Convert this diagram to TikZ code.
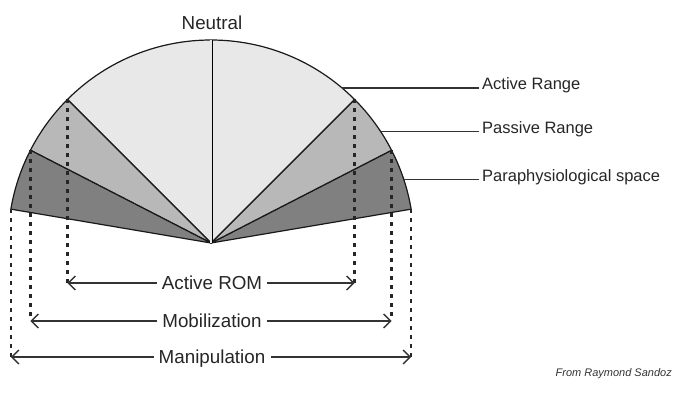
\documentclass[tikz,border=0pt]{standalone}
\usepackage{fontspec}
\setmainfont{Liberation Sans}
\usepackage{tikz}
\usetikzlibrary{positioning,arrows.meta,calc}
\definecolor{activegray}{gray}{0.91}
\definecolor{passivegray}{gray}{0.72}
\definecolor{paragray}{gray}{0.50}
\tikzset{
  wedge/.style={draw=black!90, line width=1.2pt, line join=round},
  leader/.style={line width=1.1pt, draw=black!80, shorten >=3pt},
  guide/.style={line width=2.2pt, dash pattern=on 4pt off 5pt, draw=black!85},
  span/.style={line width=1.4pt, draw=black!80, -{Straight Barb[length=7pt,width=14pt]}},
  spanlabel/.style={font=\fontsize{18.8}{21}\selectfont, inner sep=5pt, anchor=base, text=black!85},
  rangelabel/.style={font=\fontsize{16.5}{19}\selectfont, inner sep=0pt, anchor=base west, text=black!85},
}

\begin{document}
\begin{tikzpicture}[x=1pt,y=1pt]
  \useasboundingbox (0,0) rectangle (690,394);
  \coordinate (centre) at (211,151);

  % the fan
  \foreach \from/\to/\shade in {9.6/27.2/paragray, 27.2/45/passivegray, 45/135/activegray,
                                135/152.8/passivegray, 152.8/170.4/paragray}
    \filldraw[wedge, fill=\shade] (centre) -- ($(centre)+(\from:203)$)
      arc[start angle=\from, end angle=\to, radius=203] -- cycle;
  \coordinate (top) at ($(centre)+(90:203)$);
  \draw[double=activegray, double distance=1.2pt, line width=0.9pt] (centre) -- (top);
  \node[spanlabel] (neutral) at (212,364) {Neutral};

  % limits on the arc
  \coordinate (actL) at ($(centre)+(135:203)$);
  \coordinate (actR) at ($(centre)+(45:203)$);
  \coordinate (pasL) at ($(centre)+(152.8:203)$);
  \coordinate (pasR) at ($(centre)+(27.2:203)$);
  \coordinate (parL) at ($(centre)+(170.4:203)$);
  \coordinate (parR) at ($(centre)+(9.6:203)$);

  % legend on the right
  \coordinate (lgA) at ($(centre)+(49.8:203)$);
  \coordinate (lgB) at ($(centre)+(33.2:203)$);
  \coordinate (lgC) at ($(centre)+(18.2:203)$);
  \node[rangelabel] (activerange) at ($(482,0 |- lgA)+(0,-2)$) {Active Range};
  \node[rangelabel] (passiverange) at ($(482,0 |- lgB)+(0,-2)$) {Passive Range};
  \node[rangelabel] (paraspace) at ($(482,0 |- lgC)+(0,-2)$) {Paraphysiological space};
  \draw[leader] (lgA) -- (activerange.west |- lgA);
  \draw[leader] (lgB) -- (passiverange.west |- lgB);
  \draw[leader] (lgC) -- (paraspace.west |- lgC);

  % spans below
  \coordinate (romL) at (actL |- 0,111);
  \coordinate (romR) at (actR |- 0,111);
  \coordinate (mobL) at (pasL |- 0,73);
  \coordinate (mobR) at (pasR |- 0,73);
  \coordinate (manL) at (parL |- 0,37);
  \coordinate (manR) at (parR |- 0,37);
  \foreach \p/\q in {actL/romL, actR/romR, pasL/mobL, pasR/mobR, parL/manL, parR/manR}
    \draw[guide] (\p) -- (\q);

  \node[spanlabel] (rom) at (212,104.4) {Active ROM};
  \node[spanlabel] (mob) at (212,66.4) {Mobilization};
  \node[spanlabel] (man) at (212,30.4) {Manipulation};
  \draw[span] (rom.west |- romL) -- (romL);
  \draw[span] (rom.east |- romR) -- (romR);
  \draw[span] (mob.west |- mobL) -- (mobL);
  \draw[span] (mob.east |- mobR) -- (mobR);
  \draw[span] (man.west |- manL) -- (manL);
  \draw[span] (man.east |- manR) -- (manR);

  \node[anchor=base east, inner sep=0pt, font=\fontsize{11}{13}\selectfont\itshape, text=black!80]
    (source) at (672,17.5) {From Raymond Sandoz};
\end{tikzpicture}
\end{document}
